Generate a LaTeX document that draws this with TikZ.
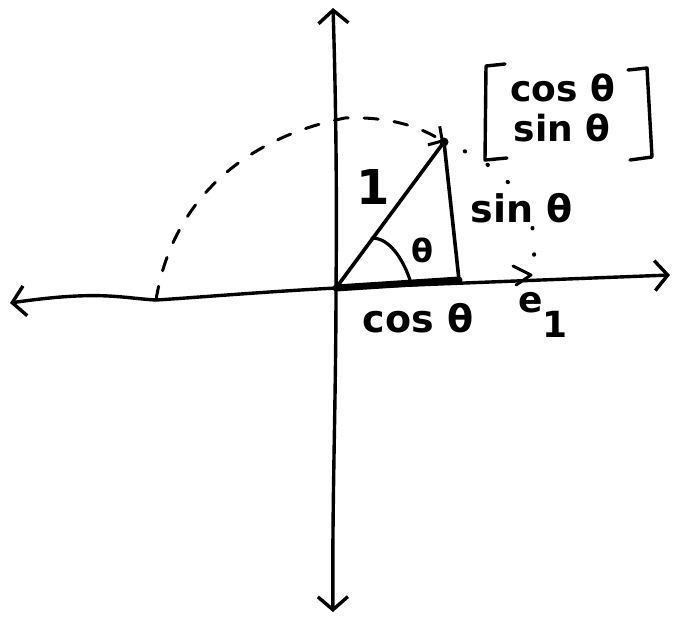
\documentclass[tikz,border=0pt]{standalone}
\usepackage{fontspec}
\setmainfont{DejaVu Sans}
\usetikzlibrary{arrows.meta}
\begin{document}
\begin{tikzpicture}[x=1pt,y=-1pt,line cap=round,line join=round,
  ax/.style={line width=3.4pt},
  barb/.style={-{Straight Barb[length=13pt,width=30pt,line width=3.4pt]}},
  smallbarb/.style={-{Straight Barb[length=10pt,width=22pt,line width=3pt]}},
  dashline/.style={line width=3pt,dash pattern=on 14pt off 16pt},
  dotline/.style={line width=4pt,dash pattern=on 0.5pt off 26pt,dash phase=6pt},
  lab/.style={inner sep=0pt,font=\bfseries\fontsize{38}{42}\selectfont},
  mat/.style={inner sep=0pt,font=\bfseries\fontsize{36}{40}\selectfont},
  brk/.style={line width=3.4pt}]
\useasboundingbox (0,0) rectangle (678,619);
% key points
\coordinate (O) at (336,288);
\coordinate (T) at (333,8);
\coordinate (B) at (333,612);
\coordinate (L) at (10,303);
\coordinate (R) at (670,275);
\coordinate (P) at (444,142);
\coordinate (F) at (459,280);
\coordinate (E) at (531,275);
\coordinate (D) at (156,300);
\coordinate (A1) at (372,238);
\coordinate (A2) at (410,280);
% axes
\draw[ax,barb] (O) .. controls (337,200) and (336,100) .. (T);
\draw[ax,barb] (O) .. controls (336,400) and (332,500) .. (B);
\draw[ax,barb] (O) .. controls (260,292) and (190,298) .. (D) .. controls (120,298) and (100,290) .. (L);
\draw[ax,barb] (O) -- (R);
% cos segment (thick)
\draw[line width=7pt] (O) -- (F);
% e1 arrowhead on axis
\draw[line width=3pt] (513,266) -- (E) -- (516,285);
% unit vector and sin leg
\draw[line width=3.6pt] (O) -- (P);
\draw[line width=3.6pt] (P) -- (F);
\fill (P) circle (4.5pt);
% angle arc
\draw[line width=3.2pt] (A1) .. controls (392,238) and (405,265) .. (A2);
% dashed rotation arc
\draw[dashline,smallbarb] (D) .. controls (172,200) and (245,138) .. (345,118) .. controls (395,116) and (425,130) .. (P);
% dotted arc from e1 to the tip
\draw[dotline] (E) .. controls (545,215) and (515,170) .. (P);
% labels
\node[inner sep=0pt,font=\bfseries\fontsize{48}{50}\selectfont] (one) at (373,187) {1};
\node[inner sep=0pt,font=\bfseries\fontsize{32}{34}\selectfont] (th) at (422,250) {θ};
\node[lab] (sin) at (522,208) {sin θ};
\node[lab] (cos) at (418,318) {cos θ};
\node[inner sep=0pt,font=\bfseries\fontsize{36}{38}\selectfont,anchor=west] (e1) at (518,315) {e\raisebox{-0.7em}{1}};
% matrix
\node[mat] (m1) at (563,88) {cos θ};
\node[mat] (m2) at (562,128) {sin θ};
\draw[brk] (505,64) -- (486,66) -- (485,160) -- (507,158);
\draw[brk] (628,70) -- (647,68) -- (652,157) -- (630,160);
\end{tikzpicture}
\end{document}
